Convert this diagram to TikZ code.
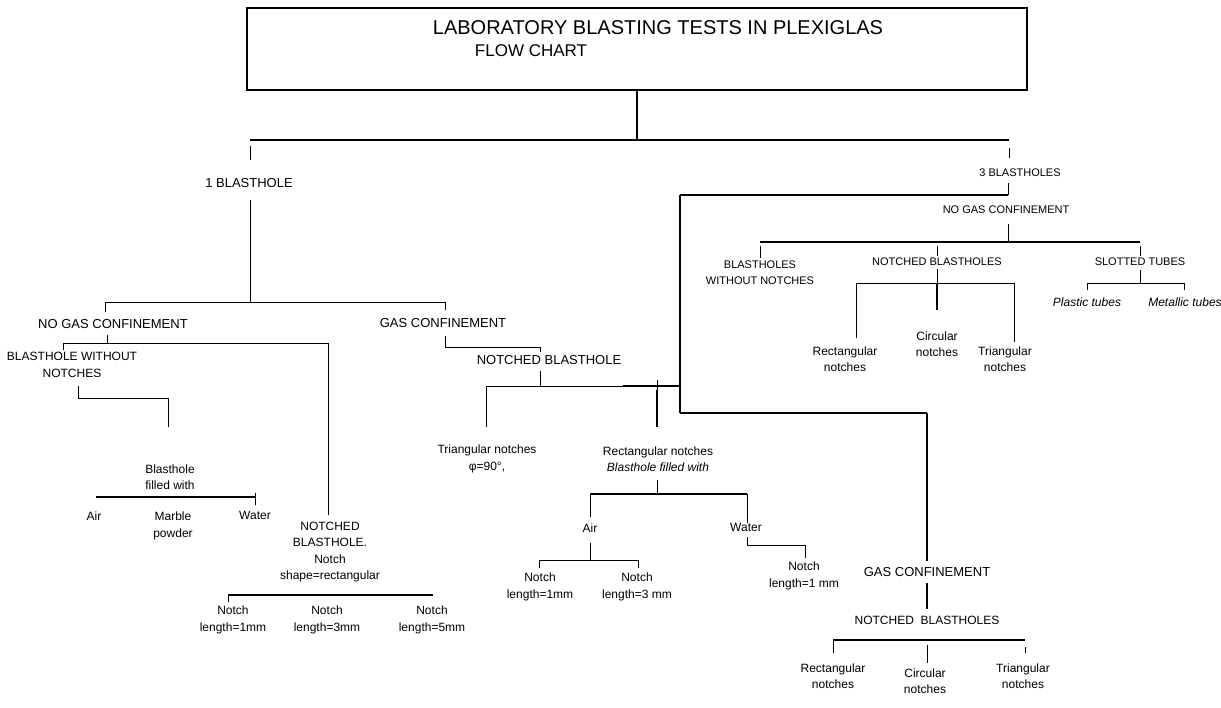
\documentclass[tikz,border=0pt]{standalone}
\usepackage{fontspec}
\setmainfont{Liberation Sans}
\usetikzlibrary{positioning}

\newcommand\titlefont{\fontsize{20}{20}\selectfont}
\newcommand\subtitlefont{\fontsize{17}{17}\selectfont}
\newcommand\capfont{\fontsize{13}{16.5}\selectfont}
\newcommand\smlfont{\fontsize{12}{16.5}\selectfont}
\newcommand\rfont{\fontsize{11}{16}\selectfont}

\begin{document}
\begin{tikzpicture}[x=1pt, y=-1pt,
  capslbl/.style={font=\capfont, align=center, inner sep=0pt},
  smalllbl/.style={font=\smlfont, align=center, inner sep=0pt},
  rightlbl/.style={font=\rfont, align=center, inner sep=0pt},
  slant/.style={font=\smlfont\itshape, align=center, inner sep=0pt},
  wire/.style={line width=0.7pt},
  mid/.style={line width=1.2pt},
  heavy/.style={line width=2.2pt}
]

\useasboundingbox (0,0) rectangle (1221,707);

% Title
\node[draw, line width=1.8pt, minimum width=780pt, minimum height=82pt, inner sep=0pt] (head) at (637,49) {};
\node[font=\titlefont, inner sep=0pt] (title1) at (658,28) {LABORATORY BLASTING TESTS IN PLEXIGLAS};
\node[font=\subtitlefont, inner sep=0pt] (title2) at (531,51) {FLOW CHART};

% Level 1
\coordinate (A1) at (250,140);
\coordinate (A2) at (1009,140);
\draw[heavy] (head.south) -- (head.south |- A1);
\draw[heavy] (A1) -- (A2);
\node[capslbl] (one) at (249,183) {1 BLASTHOLE};
\node[rightlbl] (three) at (1020,173) {3 BLASTHOLES};
\draw[wire] (A1) ++(0,6) -- ++(0,14);
\draw[wire] (A2) ++(0,8) -- ++(0,10);

% 1 blasthole
\coordinate (B1) at (105,302);
\coordinate (B2) at (445,302);
\draw[wire] (A1 |- one.south) ++(0,12) -- (A1 |- B1);
\draw[wire] (B1) -- (B2);
\draw[wire] (B1) -- ++(0,10);
\draw[wire] (B2) -- ++(0,8);
\node[capslbl] (ngcL) at (113,324) {NO GAS CONFINEMENT};
\node[capslbl] (gcL) at (443,323) {GAS CONFINEMENT};

% No gas confinement
\coordinate (C1) at (63,343);
\coordinate (C2) at (328,343);
\draw[wire] ([xshift=-6pt]ngcL.south) ++(0,6) -- ([xshift=-6pt]ngcL.south |- C1);
\draw[wire] (C1) -- (C2);
\draw[wire] (C1) -- ++(0,7);
\draw[wire] (C2) -- ++(0,172);
\node[smalllbl] (bwn) at (72,365) {BLASTHOLE WITHOUT\\NOTCHES};
\node[smalllbl] (nbA) at (330,552) {NOTCHED\\BLASTHOLE.\\Notch\\shape=rectangular};

% Blasthole without notches
\coordinate (D1) at (78,398);
\coordinate (D2) at (168,398);
\draw[wire] (D1 |- bwn.south) ++(0,8) -- (D1) -- (D2) -- ++(0,29);
\node[smalllbl] (fillA) at (170,477) {Blasthole\\filled with};
\coordinate (E1) at (96,497);
\coordinate (E2) at (255,497);
\draw[heavy] (E1) -- (E2);
\draw[wire] (E2) ++(0,-4) -- ++(0,12);
\node[smalllbl] (airA) at (94,516) {Air};
\node[smalllbl] (marble) at (173,526) {Marble\\powder};
\node[smalllbl] (waterA) at (255,515) {Water};

% Notch shape rectangular
\coordinate (F1) at (228,595);
\coordinate (F2) at (433,595);
\draw[heavy] (F1) -- (F2);
\draw[wire] (F1) -- ++(0,7);
\node[smalllbl] (n1) at (233,620) {Notch\\length=1mm};
\node[smalllbl] (n3) at (327,620) {Notch\\length=3mm};
\node[smalllbl] (n5) at (432,620) {Notch\\length=5mm};

% Gas confinement
\coordinate (G0) at (540,347);
\draw[wire] (gcL.south -| B2) ++(0,8) |- (G0) -- ++(0,5);
\node[capslbl] (nbB) at (549,360) {NOTCHED BLASTHOLE};
\coordinate (G1) at (486,386);
\coordinate (G3) at (623,386);
\coordinate (G4) at (657,386);
\coordinate (G2) at (680,386);
\draw[wire] (G0 |- nbB.south) ++(0,6) -- (G0 |- G1);
\draw[wire] (G1) -- (G3);
\draw[heavy] (G3) -- (G2);
\draw[wire] (G1) -- ++(0,41);
\draw[wire] (G4) ++(0,-6) -- ++(0,10);
\draw[mid] (G4) ++(0,4) -- ++(0,37);
\node[smalllbl] (tri) at (487,459) {Triangular notches\\φ=90°,};
\node[smalllbl] (rect) at (658,459) {Rectangular notches\\\textit{Blasthole filled with}};

\coordinate (H1) at (590,494);
\coordinate (H2) at (747,494);
\draw[wire] (G4 |- rect.south) ++(0,8) -- (G4 |- H1);
\draw[heavy] (H1) -- (H2);
\draw[wire] (H1) -- ++(0,23);
\draw[wire] (H2) -- ++(0,29);
\node[smalllbl] (airB) at (590,528) {Air};
\node[smalllbl] (waterB) at (746,527) {Water};
\coordinate (I1) at (539,560);
\coordinate (I2) at (638,560);
\draw[wire] (H1 |- airB.south) ++(0,10) -- (H1 |- I1);
\draw[wire] (I1) -- (I2);
\draw[wire] (I1) -- ++(0,8);
\draw[wire] (I2) -- ++(0,8);
\node[smalllbl] (nb1) at (540,587) {Notch\\length=1mm};
\node[smalllbl] (nb3) at (637,587) {Notch\\length=3 mm};
\coordinate (W1) at (805,545);
\draw[wire] (H2 |- waterB.south) ++(0,6) |- (W1) -- ++(0,13);
\node[smalllbl] (nw1) at (804,576) {Notch\\length=1 mm};

% 3 blastholes
\coordinate (J1) at (680,195);
\coordinate (J2) at (1008,195);
\coordinate (K1) at (760,242);
\coordinate (K2) at (1140,242);
\draw[wire] (J2 |- three.south) ++(0,6) -- (J2);
\draw[heavy] (J1) -- (J2);
\node[rightlbl] (ngcR) at (1006,210) {NO GAS CONFINEMENT};
\draw[wire] (J2 |- ngcR.south) ++(0,10) -- (J2 |- K1);
\draw[heavy] (K1) -- (K2);
\draw[wire] (K1) ++(0,4) -- ++(0,12);
\draw[wire] (K2) ++(0,4) -- ++(0,10);
\node[rightlbl] (bwnR) at (760,273) {BLASTHOLES\\WITHOUT NOTCHES};
\node[rightlbl] (nbR) at (937,262) {NOTCHED BLASTHOLES};
\node[rightlbl] (slot) at (1140,262) {SLOTTED TUBES};
\draw[wire] (nbR.north |- K1) ++(0,4) -- ++(0,10);

\coordinate (L1) at (856,283);
\coordinate (L2) at (1014,283);
\draw[wire] (nbR.south) ++(0,3) -- (nbR.south |- L1);
\draw[wire] (L1) -- (L2);
\draw[wire] (L1) -- ++(0,55);
\draw[mid] (nbR.south |- L1) -- ++(0,27);
\draw[wire] (L2) -- ++(0,59);
\node[smalllbl] (rectR) at (845,359) {Rectangular\\notches};
\node[smalllbl] (circR) at (937,344) {Circular\\notches};
\node[smalllbl] (triR) at (1005,359) {Triangular\\notches};

\coordinate (M1) at (1087,283);
\coordinate (M2) at (1184,283);
\draw[wire] (slot.south) ++(0,4) -- (slot.south |- M1);
\draw[wire] (M1) -- (M2);
\draw[wire] (M1) -- ++(0,7);
\draw[wire] (M2) -- ++(0,7);
\node[slant] (plastic) at (1087,302) {Plastic tubes};
\node[slant] (metal) at (1185,302) {Metallic tubes};

% Gas confinement, 3 blastholes
\coordinate (P1) at (680,413);
\coordinate (P2) at (927,413);
\draw[heavy] (J1) -- (P1);
\draw[mid] (P1) -- (P2);
\node[capslbl] (gcR) at (927,572) {GAS CONFINEMENT};
\draw[heavy, shorten >=6pt] (P2) -- (gcR.north);
\node[smalllbl] (nbR2) at (927,620) {NOTCHED\ \ BLASTHOLES};
\draw[heavy, shorten <=6pt, shorten >=7pt] (gcR.south) -- (nbR2.north);
\coordinate (N1) at (833,640);
\coordinate (N2) at (1025,640);
\draw[heavy] (N1) -- (N2);
\draw[wire] (N1) -- ++(0,13);
\draw[wire] (N2) ++(0,7) -- ++(0,6);
\draw[wire] (nbR2.south |- N1) ++(0,5) -- ++(0,18);
\node[smalllbl] (rectR2) at (833,676) {Rectangular\\notches};
\node[smalllbl] (circR2) at (925,681) {Circular\\notches};
\node[smalllbl] (triR2) at (1023,676) {Triangular\\notches};

\end{tikzpicture}
\end{document}
